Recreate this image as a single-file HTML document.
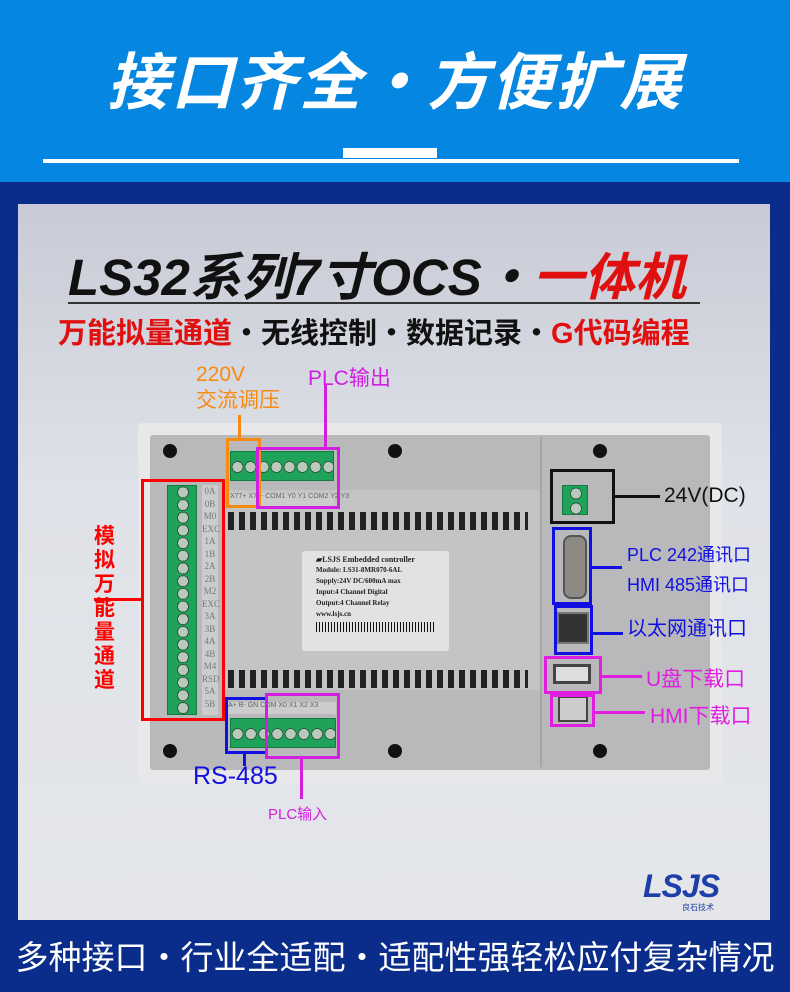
<html><head><style>
body{margin:0;width:790px;height:992px;position:relative;overflow:hidden;font-family:"Liberation Sans","Noto Sans CJK SC",sans-serif;background:#0a2d8c}
div,span{position:absolute;box-sizing:border-box}
.t{white-space:nowrap}
.g{background:#1fa35a;border:1px solid #137a40}
.sh{background-color:#1fa35a;border:1px solid #137a40;background-image:radial-gradient(circle,#b9c9bd 0 5px,#2c5a3a 5px 6px,transparent 6px);}
.hole{width:14px;height:14px;border-radius:50%;background:#111}
</style></head><body>
<div style="left:0;top:0;width:790px;height:182px;background:#0586e0"></div>
<div class="t" style="left:0;top:32px;width:790px;text-align:center;color:#fff;font-size:62px;font-weight:bold;font-style:italic;letter-spacing:2px">接口齐全・方便扩展</div>
<div style="left:43px;top:159px;width:696px;height:4px;background:#fff"></div>
<div style="left:343px;top:148px;width:94px;height:10px;background:#fff"></div>
<div style="left:18px;top:204px;width:752px;height:716px;background:linear-gradient(#c8cbd6,#dfe2e8 40%,#e4e6ea)"></div>
<div class="t" style="left:68px;top:236px;font-size:51px;font-style:italic;font-weight:bold;color:#111">LS32系列7寸OCS・<span style="position:static;color:#e01010">一体机</span></div>
<div style="left:68px;top:302px;width:632px;height:2px;background:#333"></div>
<div class="t" style="left:58px;top:310px;font-size:29px;font-weight:bold;color:#e01010">万能拟量通道<span style="position:static;color:#111">・无线控制・数据记录・</span>G代码编程</div>
<div style="left:138px;top:423px;width:584px;height:360px;background:#e8e8ea;border-radius:4px"></div>
<div style="left:150px;top:435px;width:560px;height:335px;background:#b9b9bc;border-radius:3px"></div>
<div style="left:222px;top:490px;width:318px;height:200px;background:#c4c4c7;border-radius:4px"></div>
<div style="left:540px;top:437px;width:2px;height:330px;background:#a6a6a9"></div>
<div class="hole" style="left:163px;top:444px"></div><div class="hole" style="left:388px;top:444px"></div><div class="hole" style="left:593px;top:444px"></div>
<div class="hole" style="left:163px;top:744px"></div><div class="hole" style="left:388px;top:744px"></div><div class="hole" style="left:593px;top:744px"></div>
<div style="left:228px;top:512px;width:300px;height:18px;background:repeating-linear-gradient(90deg,#222 0 6px,transparent 6px 11px)"></div>
<div style="left:228px;top:670px;width:300px;height:18px;background:repeating-linear-gradient(90deg,#222 0 6px,transparent 6px 11px)"></div>
<div style="left:302px;top:551px;width:147px;height:100px;background:#e2e2e4;border-radius:3px;font-family:'Liberation Serif',serif;font-size:7px;font-weight:bold;color:#222;line-height:11px;padding:3px 14px">
<div class="t" style="position:static;font-size:8px">▰LSJS Embedded controller</div>
<div class="t" style="position:static">Module: LS31-8MR070-6AL</div>
<div class="t" style="position:static">Supply:24V DC/600mA max</div>
<div class="t" style="position:static">Input:4 Channel Digital</div>
<div class="t" style="position:static">Output:4 Channel Relay</div>
<div class="t" style="position:static">www.lsjs.cn</div>
<div style="position:static;height:10px;margin-top:2px;background:repeating-linear-gradient(90deg,#111 0 1px,transparent 1px 3px)"></div>
</div>
<div class="sh" style="left:230px;top:451px;width:104px;height:30px;background-size:13px 30px"></div>
<div style="left:230px;top:493px;width:104px;height:14px;background:#ccc;font-size:7px;color:#666;white-space:nowrap">X77+ X77- COM1 Y0 Y1 COM2 Y2 Y3</div>
<div class="sh" style="left:167px;top:485px;width:30px;height:230px;background-size:30px 12.7px"></div>
<div style="left:202px;top:485px;width:16px;height:230px;background:#ccc;font-size:9px;color:#777;line-height:12.5px;text-align:center;font-family:'Liberation Serif',serif">0A 0B M0 EXC 1A 1B 2A 2B M2 EXC 3A 3B 4A 4B M4 RSD 5A 5B</div>
<div style="left:228px;top:702px;width:108px;height:12px;background:#ccc;font-size:7px;color:#666;white-space:nowrap">A+ B- GN COM X0 X1 X2 X3</div>
<div class="sh" style="left:230px;top:718px;width:106px;height:30px;background-size:13.25px 30px"></div>
<div class="sh" style="left:562px;top:485px;width:26px;height:30px;background-size:26px 15px"></div>
<div style="left:563px;top:535px;width:24px;height:64px;background:#8d8a86;border-radius:8px;border:2px solid #555"></div>
<div style="left:557px;top:612px;width:32px;height:32px;background:#333;border:2px solid #777"></div>
<div style="left:553px;top:664px;width:38px;height:20px;background:#ddd;border:3px solid #444"></div>
<div style="left:558px;top:696px;width:30px;height:26px;background:#ccc;border:2px solid #444"></div>
<div style="left:141px;top:479px;width:84px;height:242px;border:3px solid #f00"></div>
<div style="left:94px;top:598px;width:48px;height:3px;background:#f00"></div>
<div class="t" style="left:94px;top:525px;width:28px;font-size:21px;line-height:24px;color:#f00;white-space:normal;font-weight:bold">模拟万能量通道</div>
<div style="left:226px;top:438px;width:35px;height:70px;border:3px solid #f78a10"></div>
<div style="left:238px;top:415px;width:3px;height:23px;background:#f78a10"></div>
<div class="t" style="left:196px;top:362px;font-size:21px;line-height:26px;color:#f78a10">220V<br>交流调压</div>
<div style="left:256px;top:447px;width:84px;height:62px;border:3px solid #d21ee0"></div>
<div style="left:324px;top:385px;width:3px;height:62px;background:#d21ee0"></div>
<div class="t" style="left:308px;top:362px;font-size:21px;color:#d21ee0">PLC输出</div>
<div style="left:225px;top:697px;width:43px;height:57px;border:3px solid #1010e0"></div>
<div style="left:243px;top:754px;width:3px;height:12px;background:#1010e0"></div>
<div class="t" style="left:193px;top:762px;font-size:25px;color:#1010e0">RS-485</div>
<div style="left:265px;top:693px;width:75px;height:66px;border:3px solid #d21ee0"></div>
<div style="left:300px;top:759px;width:3px;height:40px;background:#d21ee0"></div>
<div class="t" style="left:268px;top:803px;font-size:15px;color:#d21ee0">PLC输入</div>
<div style="left:550px;top:469px;width:65px;height:55px;border:3px solid #111"></div>
<div style="left:615px;top:495px;width:45px;height:3px;background:#111"></div>
<div class="t" style="left:664px;top:484px;font-size:21px;color:#111">24V(DC)</div>
<div style="left:552px;top:527px;width:40px;height:78px;border:3px solid #1010e0"></div>
<div style="left:592px;top:566px;width:30px;height:3px;background:#1010e0"></div>
<div class="t" style="left:627px;top:540px;font-size:18px;line-height:30px;color:#1010e0">PLC 242通讯口<br>HMI 485通讯口</div>
<div style="left:554px;top:605px;width:39px;height:50px;border:3px solid #1010e0"></div>
<div style="left:593px;top:632px;width:30px;height:3px;background:#1010e0"></div>
<div class="t" style="left:627px;top:612px;font-size:20px;color:#1010e0">以太网通讯口</div>
<div style="left:544px;top:656px;width:58px;height:38px;border:3px solid #e11ee0"></div>
<div style="left:602px;top:675px;width:40px;height:3px;background:#e11ee0"></div>
<div class="t" style="left:646px;top:663px;font-size:21px;color:#e11ee0">U盘下载口</div>
<div style="left:550px;top:694px;width:45px;height:33px;border:3px solid #e11ee0"></div>
<div style="left:595px;top:711px;width:50px;height:3px;background:#e11ee0"></div>
<div class="t" style="left:650px;top:700px;font-size:21px;color:#e11ee0">HMI下载口</div>
<div class="t" style="left:643px;top:868px;font-size:32px;font-weight:bold;font-style:italic;color:#1e3ea8;letter-spacing:-1px">LSJS</div>
<div class="t" style="left:682px;top:902px;font-size:8px;color:#1e3ea8">良石技术</div>
<div class="t" style="left:0;top:931px;width:790px;text-align:center;font-size:33px;color:#fff">多种接口・行业全适配・适配性强轻松应付复杂情况</div>
</body></html>
